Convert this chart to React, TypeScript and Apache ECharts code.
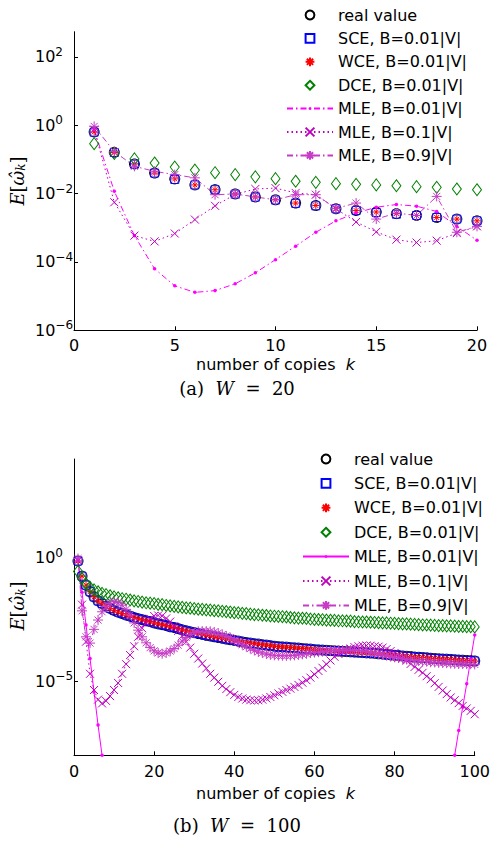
import React, { useEffect, useRef } from 'react';
import * as echarts from 'echarts';

const SANS = '"DejaVu Sans", Verdana, sans-serif';
const SERIF = '"DejaVu Serif", "Liberation Serif", serif';

// ---------- legend / tick labels ----------
const seriesNames = [
  'real value',
  'SCE, B=0.01|V|',
  'WCE, B=0.01|V|',
  'DCE, B=0.01|V|',
  'MLE, B=0.01|V|',
  'MLE, B=0.1|V|',
  'MLE, B=0.9|V|',
];
const yTicksW20 = [1e-6, 1e-4, 1e-2, 1, 1e2];
const yTicksW100 = [1e-5, 1];

// ---------- (a) W = 20 ----------
const copiesW20 = [1, 2, 3, 4, 5, 6, 7, 8, 9, 10, 11, 12, 13, 14, 15, 16, 17, 18, 19, 20];
const realW20 = [0.64, 0.162, 0.074, 0.04, 0.027, 0.018, 0.0131, 0.0098, 0.008, 0.0066, 0.0053, 0.0045, 0.0036, 0.0032, 0.0029, 0.0026, 0.0023, 0.002, 0.0018, 0.0016];
const sceW20 = [0.63, 0.16, 0.073, 0.04, 0.026, 0.018, 0.013, 0.0097, 0.0079, 0.0065, 0.0052, 0.0044, 0.0036, 0.0032, 0.0028, 0.0025, 0.0023, 0.002, 0.0018, 0.0016];
const wceW20 = [0.64, 0.16, 0.074, 0.04, 0.027, 0.018, 0.013, 0.0098, 0.008, 0.0066, 0.0053, 0.0045, 0.0037, 0.0032, 0.0029, 0.0026, 0.0023, 0.002, 0.0018, 0.0016];
const dceW20 = [0.29, 0.15, 0.104, 0.079, 0.06, 0.049, 0.041, 0.036, 0.031, 0.0275, 0.023, 0.0214, 0.0196, 0.0187, 0.018, 0.017, 0.016, 0.0153, 0.0137, 0.013];
const mle001W20 = [0.75, 0.0117, 5.9e-4, 6.3e-5, 2.0e-5, 1.29e-5, 1.45e-5, 2.3e-5, 4.8e-5, 1.17e-4, 2.9e-4, 7.4e-4, 1.6e-3, 2.7e-3, 4.0e-3, 4.8e-3, 4.3e-3, 3.0e-3, 1.1e-3, 4.3e-4];
const mle01W20 = [0.75, 5.6e-3, 5.9e-4, 4.0e-4, 6.8e-4, 1.74e-3, 4.4e-3, 9.5e-3, 0.0137, 0.0145, 0.0105, 0.0093, 3.6e-3, 1.48e-3, 7.6e-4, 4.5e-4, 3.7e-4, 4.2e-4, 7.0e-4, 1.1e-3];
const mle09W20 = [0.93, 0.17, 0.063, 0.045, 0.036, 0.029, 0.0093, 0.0098, 0.008, 0.0066, 0.0093, 0.0093, 0.0037, 0.0053, 0.0018, 0.0027, 0.0023, 0.0083, 7.4e-4, 1.1e-3];

// ---------- (b) W = 100 ----------
const copiesW100 = [
  1, 2, 3, 4, 5, 6, 7, 8, 9, 10, 11, 12, 13, 14, 15, 16, 17, 18, 19, 20,
  21, 22, 23, 24, 25, 26, 27, 28, 29, 30, 31, 32, 33, 34, 35, 36, 37, 38, 39, 40,
  41, 42, 43, 44, 45, 46, 47, 48, 49, 50, 51, 52, 53, 54, 55, 56, 57, 58, 59, 60,
  61, 62, 63, 64, 65, 66, 67, 68, 69, 70, 71, 72, 73, 74, 75, 76, 77, 78, 79, 80,
  81, 82, 83, 84, 85, 86, 87, 88, 89, 90, 91, 92, 93, 94, 95, 96, 97, 98, 99, 100,
];
const realW100 = [
  7.4e-1, 1.8e-1, 7.8e-2, 4.2e-2, 2.6e-2, 1.8e-2, 1.4e-2, 1.1e-2, 8.9e-3, 7.4e-3,
  6.3e-3, 5.5e-3, 4.8e-3, 4.3e-3, 3.8e-3, 3.4e-3, 3.1e-3, 2.8e-3, 2.6e-3, 2.3e-3,
  2.1e-3, 1.95e-3, 1.8e-3, 1.6e-3, 1.5e-3, 1.35e-3, 1.2e-3, 1.1e-3, 1.0e-3, 9.3e-4,
  8.5e-4, 7.9e-4, 7.2e-4, 6.8e-4, 6.3e-4, 5.9e-4, 5.5e-4, 5.1e-4, 4.8e-4, 4.5e-4,
  4.2e-4, 3.9e-4, 3.7e-4, 3.5e-4, 3.3e-4, 3.2e-4, 3.0e-4, 2.9e-4, 2.75e-4, 2.6e-4,
  2.5e-4, 2.45e-4, 2.4e-4, 2.3e-4, 2.25e-4, 2.2e-4, 2.1e-4, 2.05e-4, 2.0e-4, 1.9e-4,
  1.86e-4, 1.82e-4, 1.78e-4, 1.74e-4, 1.7e-4, 1.66e-4, 1.62e-4, 1.58e-4, 1.55e-4, 1.51e-4,
  1.48e-4, 1.45e-4, 1.41e-4, 1.38e-4, 1.35e-4, 1.29e-4, 1.26e-4, 1.2e-4, 1.17e-4, 1.12e-4,
  1.1e-4, 1.05e-4, 1.02e-4, 1.0e-4, 9.5e-5, 9.3e-5, 9.1e-5, 8.9e-5, 8.5e-5, 8.3e-5,
  8.1e-5, 7.9e-5, 7.8e-5, 7.6e-5, 7.4e-5, 7.2e-5, 7.1e-5, 6.9e-5, 6.8e-5, 6.6e-5,
];
// SCE and WCE markers sit on the real-value curve in the picture
const sceW100 = realW100;
const wceW100 = realW100;
const dceW100 = [
  2.8e-1, 1.45e-1, 8.9e-2, 6.3e-2, 5.0e-2, 4.2e-2, 3.6e-2, 3.2e-2, 2.9e-2, 2.6e-2,
  2.4e-2, 2.2e-2, 2.1e-2, 1.95e-2, 1.8e-2, 1.7e-2, 1.6e-2, 1.5e-2, 1.45e-2, 1.4e-2,
  1.3e-2, 1.26e-2, 1.17e-2, 1.12e-2, 1.07e-2, 1.02e-2, 9.8e-3, 9.3e-3, 9.1e-3, 8.7e-3,
  8.3e-3, 8.1e-3, 7.8e-3, 7.6e-3, 7.2e-3, 7.1e-3, 6.8e-3, 6.6e-3, 6.3e-3, 6.0e-3,
  5.9e-3, 5.6e-3, 5.5e-3, 5.2e-3, 5.0e-3, 4.9e-3, 4.7e-3, 4.6e-3, 4.4e-3, 4.3e-3,
  4.2e-3, 4.1e-3, 4.0e-3, 3.8e-3, 3.7e-3, 3.6e-3, 3.55e-3, 3.5e-3, 3.3e-3, 3.2e-3,
  3.16e-3, 3.1e-3, 3.0e-3, 2.95e-3, 2.9e-3, 2.8e-3, 2.8e-3, 2.75e-3, 2.7e-3, 2.6e-3,
  2.55e-3, 2.5e-3, 2.5e-3, 2.45e-3, 2.4e-3, 2.35e-3, 2.3e-3, 2.3e-3, 2.24e-3, 2.2e-3,
  2.15e-3, 2.1e-3, 2.1e-3, 2.05e-3, 2.0e-3, 1.95e-3, 1.9e-3, 1.9e-3, 1.86e-3, 1.82e-3,
  1.78e-3, 1.78e-3, 1.74e-3, 1.74e-3, 1.7e-3, 1.66e-3, 1.66e-3, 1.62e-3, 1.62e-3, 1.58e-3,
];
// k = 8 … 94 fall below the 1e-8 floor of the axis (gap marked with null)
const mle001W100Copies = [1, 2, 3, 4, 5, 6, 7, 8, 94, 95, 96, 97, 98, 99, 100];
const mle001W100 = [8.0e-1, 4.0e-2, 1.9e-3, 8.3e-5, 3.7e-6, 1.7e-7, 1.0e-8, null, null, 1.0e-8, 1.0e-7, 8.9e-7, 7.9e-6, 7.9e-5, 7.4e-4];
const mle01W100 = [
  7.9e-1, 1.26e-2, 4.0e-4, 2.0e-5, 4.4e-6, 1.8e-6, 1.26e-6, 1.6e-6, 2.5e-6, 4.4e-6,
  8.5e-6, 2.0e-5, 4.9e-5, 1.15e-4, 2.6e-4, 6.3e-4, 1.4e-3, 2.3e-3, 3.4e-3, 4.4e-3,
  4.6e-3, 4.4e-3, 3.5e-3, 2.6e-3, 1.7e-3, 1.1e-3, 6.8e-4, 4.0e-4, 2.3e-4, 1.3e-4,
  8.3e-5, 5.2e-5, 3.3e-5, 2.0e-5, 1.4e-5, 9.5e-6, 6.5e-6, 4.8e-6, 3.6e-6, 2.8e-6,
  2.3e-6, 2.0e-6, 1.8e-6, 1.7e-6, 1.66e-6, 1.7e-6, 1.8e-6, 2.0e-6, 2.3e-6, 2.7e-6,
  3.2e-6, 3.7e-6, 4.4e-6, 5.0e-6, 5.9e-6, 7.1e-6, 8.7e-6, 1.1e-5, 1.4e-5, 1.9e-5,
  2.6e-5, 3.5e-5, 4.9e-5, 6.9e-5, 9.8e-5, 1.26e-4, 1.55e-4, 1.8e-4, 2.1e-4, 2.4e-4,
  2.6e-4, 2.75e-4, 2.8e-4, 2.75e-4, 2.6e-4, 2.5e-4, 2.3e-4, 2.0e-4, 1.66e-4, 1.4e-4,
  1.15e-4, 8.9e-5, 6.8e-5, 5.0e-5, 3.8e-5, 2.9e-5, 2.2e-5, 1.6e-5, 1.2e-5, 8.3e-6,
  5.9e-6, 4.2e-6, 3.0e-6, 2.2e-6, 1.7e-6, 1.3e-6, 1.0e-6, 7.9e-7, 6.3e-7, 4.6e-7,
];
const mle09W100 = [
  9.3e-1, 7.1e-3, 6.3e-4, 3.5e-4, 1.26e-3, 3.0e-3, 6.5e-3, 1.05e-2, 1.4e-2, 1.66e-2,
  1.5e-2, 1.2e-2, 8.1e-3, 4.8e-3, 2.3e-3, 1.17e-3, 6.3e-4, 3.6e-4, 2.3e-4, 1.7e-4,
  1.4e-4, 1.3e-4, 1.4e-4, 1.66e-4, 2.1e-4, 2.9e-4, 4.2e-4, 5.9e-4, 7.8e-4, 9.3e-4,
  1.05e-3, 1.07e-3, 1.07e-3, 1.05e-3, 9.8e-4, 8.9e-4, 7.8e-4, 6.8e-4, 5.8e-4, 4.7e-4,
  3.7e-4, 3.0e-4, 2.5e-4, 2.1e-4, 1.78e-4, 1.55e-4, 1.4e-4, 1.26e-4, 1.17e-4, 1.12e-4,
  1.1e-4, 1.07e-4, 1.07e-4, 1.1e-4, 1.12e-4, 1.17e-4, 1.23e-4, 1.29e-4, 1.4e-4, 1.45e-4,
  1.5e-4, 1.58e-4, 1.66e-4, 1.7e-4, 1.74e-4, 1.78e-4, 1.82e-4, 1.82e-4, 1.82e-4, 1.78e-4,
  1.74e-4, 1.66e-4, 1.58e-4, 1.48e-4, 1.4e-4, 1.29e-4, 1.17e-4, 1.1e-4, 1.0e-4, 9.3e-5,
  8.7e-5, 8.1e-5, 7.6e-5, 7.2e-5, 6.9e-5, 6.6e-5, 6.3e-5, 6.2e-5, 5.9e-5, 5.8e-5,
  5.6e-5, 5.5e-5, 5.4e-5, 5.2e-5, 5.1e-5, 5.0e-5, 5.0e-5, 4.9e-5, 4.9e-5, 4.8e-5,
];

// ---------- marker shapes ----------
const SYM_ASTER = 'path://M5 0L5 10M0 5L10 5M1.46 1.46L8.54 8.54M1.46 8.54L8.54 1.46';
const SYM_X = 'path://M0 0L10 10M0 10L10 0';
const SYM_DOT = 'path://M0 0M10 10M5 3.4A1.6 1.6 0 1 1 5 6.6A1.6 1.6 0 1 1 5 3.4Z';

const MAG = '#ff00ff';
const PURPLE1 = '#bf00bf';
const PURPLE2 = '#c63cc6';

function pairs(xs: number[], ys: (number | null)[]) {
  return xs.map((x, i) => [x, ys[i] === null ? '-' : ys[i]]);
}

function markerSeries(name: string, xs: number[], ys: (number | null)[], symbol: string, size: any, color: string, fill: string) {
  return {
    name,
    type: 'line',
    data: pairs(xs, ys),
    symbol,
    symbolSize: size,
    silent: true,
    lineStyle: { width: 0, opacity: 0 },
    itemStyle: { color: fill, borderColor: color, borderWidth: 1 },
    emphasis: { disabled: true },
  };
}

function lineSeries(name: string, xs: number[], ys: (number | null)[], symbol: string, size: any, color: string, lineType: any, fillSym: boolean) {
  return {
    name,
    type: 'line',
    data: pairs(xs, ys),
    symbol,
    symbolSize: size,
    silent: true,
    lineStyle: { width: 1, color, type: lineType },
    itemStyle: { color, borderColor: color, borderWidth: fillSym ? 0 : 1 },
    emphasis: { disabled: true },
  };
}

const supMinus = (e: number) => (e < 0 ? '\u2212' + -e : String(e));

function buildOption(p: any) {
  return {
    animation: false,
    backgroundColor: '#fff',
    grid: { left: 74, width: 403, top: p.gridTop, height: p.gridHeight, containLabel: false },
    legend: {
      orient: 'vertical',
      left: p.legendLeft,
      top: p.legendTop,
      padding: 0,
      itemWidth: 46,
      itemHeight: 11,
      itemGap: p.legendGap,
      selectedMode: false,
      data: seriesNames,
      textStyle: { fontSize: 16, fontFamily: SANS, color: '#000', lineHeight: 18 },
    },
    xAxis: {
      type: 'value',
      min: 0,
      max: p.xMax,
      interval: p.xInterval,
      axisLine: { lineStyle: { color: '#000', width: 1 } },
      axisTick: { inside: true, length: 4, lineStyle: { color: '#000' } },
      axisLabel: { margin: p.xLabelMargin, fontSize: 16, fontFamily: SANS, color: '#000', lineHeight: 17 },
      splitLine: { show: false },
    },
    yAxis: {
      type: 'log',
      logBase: 10,
      min: p.yMin,
      max: p.yMax,
      axisLine: { show: true, lineStyle: { color: '#000', width: 1 } },
      axisTick: { show: true, inside: true, length: 4, customValues: p.yTicks, lineStyle: { color: '#000' } },
      axisLabel: {
        customValues: p.yTicks,
        align: 'left',
        margin: 39,
        formatter: (v: number) => '{b|10}{s|' + supMinus(Math.round(Math.log10(v))) + '}',
        rich: {
          b: { fontSize: 16, fontFamily: SANS, color: '#000' },
          s: { fontSize: 12, fontFamily: SANS, color: '#000', padding: [0, 0, 10, 0] },
        },
      },
      splitLine: { show: false },
      minorTick: { show: false },
    },
    graphic: [
      {
        type: 'text',
        x: 275.5,
        y: p.titleY,
        silent: true,
        style: {
          text: 'number of copies  {k|k}',
          fontSize: 16,
          fontFamily: SANS,
          lineHeight: 16,
          fill: '#000',
          align: 'center',
          verticalAlign: 'middle',
          rich: { k: { fontSize: 16, lineHeight: 16, fontFamily: SANS, fontStyle: 'italic', fill: '#000' } },
        },
      },
      {
        type: 'text',
        x: 17,
        y: p.yNameY,
        rotation: Math.PI / 2,
        silent: true,
        style: {
          text: '{e|E}{n|[}{w|\u03c9\u0302}{k|k}{n|]}',
          align: 'center',
          verticalAlign: 'middle',
          fill: '#000',
          rich: {
            e: { fontSize: 18, fontFamily: SERIF, fontStyle: 'italic', fill: '#000' },
            n: { fontSize: 18, fontFamily: SERIF, fill: '#000' },
            w: { fontSize: 18, fontFamily: SERIF, fontStyle: 'italic', fill: '#000' },
            k: { fontSize: 12, fontFamily: SERIF, fontStyle: 'italic', fill: '#000', padding: [8, 0, 0, 0] },
          },
        },
      },
      {
        type: 'text',
        x: 237,
        y: p.captionY,
        silent: true,
        style: {
          text: '{n|(' + p.captionTag + ')  }{i|W}{n|  =  ' + p.captionW + '}',
          align: 'center',
          verticalAlign: 'middle',
          fill: '#000',
          rich: {
            n: { fontSize: 18, fontFamily: SERIF, fill: '#000' },
            i: { fontSize: 18, fontFamily: SERIF, fontStyle: 'italic', fill: '#000' },
          },
        },
      },
    ],
    series: p.series,
  };
}

const DASHDOT = [6, 3, 1.5, 3];
const DOTTED = [1.5, 3];

const optionW20 = buildOption({
  gridTop: 31.7,
  gridHeight: 298.6,
  xMax: 20,
  xInterval: 5,
  xLabelMargin: 7,
  yMin: 1e-6,
  yMax: 549.5,
  yTicks: yTicksW20,
  legendLeft: 286,
  legendTop: 6,
  legendGap: 5.4,
  titleY: 364,
  yNameY: 181,
  captionY: 388,
  captionTag: 'a',
  captionW: '20',
  series: [
    markerSeries(seriesNames[0], copiesW20, realW20, 'circle', 10, '#000', 'rgba(0,0,0,0)'),
    markerSeries(seriesNames[1], copiesW20, sceW20, 'rect', 8, '#0000ff', 'rgba(0,0,0,0)'),
    markerSeries(seriesNames[2], copiesW20, wceW20, SYM_ASTER, 7, '#ff0000', '#ff0000'),
    markerSeries(seriesNames[3], copiesW20, dceW20, 'diamond', [9, 12], '#008000', 'rgba(0,0,0,0)'),
    lineSeries(seriesNames[4], copiesW20, mle001W20, SYM_DOT, 11, MAG, DASHDOT, true),
    lineSeries(seriesNames[5], copiesW20, mle01W20, SYM_X, 8, PURPLE1, DOTTED, false),
    lineSeries(seriesNames[6], copiesW20, mle09W20, SYM_ASTER, 10, PURPLE2, DASHDOT, false),
  ],
});

const optionW100 = buildOption({
  gridTop: 38,
  gridHeight: 296.3,
  xMax: 100,
  xInterval: 20,
  xLabelMargin: 8,
  yMin: 1e-8,
  yMax: 1e4,
  yTicks: yTicksW100,
  legendLeft: 302,
  legendTop: 29,
  legendGap: 6.4,
  titleY: 372,
  yNameY: 185,
  captionY: 404,
  captionTag: 'b',
  captionW: '100',
  series: [
    markerSeries(seriesNames[0], copiesW100, realW100, 'circle', 10, '#000', 'rgba(0,0,0,0)'),
    markerSeries(seriesNames[1], copiesW100, sceW100, 'rect', 8, '#0000ff', 'rgba(0,0,0,0)'),
    markerSeries(seriesNames[2], copiesW100, wceW100, SYM_ASTER, 7, '#ff0000', '#ff0000'),
    markerSeries(seriesNames[3], copiesW100, dceW100, 'diamond', [9, 12], '#008000', 'rgba(0,0,0,0)'),
    lineSeries(seriesNames[4], mle001W100Copies, mle001W100, SYM_DOT, 11, MAG, 'solid', true),
    lineSeries(seriesNames[5], copiesW100, mle01W100, SYM_X, 8, PURPLE1, DOTTED, false),
    lineSeries(seriesNames[6], copiesW100, mle09W100, SYM_ASTER, 10, PURPLE2, DASHDOT, false),
  ],
});

function Chart({ option, top, height }: { option: any; top: number; height: number }) {
  const ref = useRef<HTMLDivElement>(null);
  useEffect(() => {
    const chart = echarts.init(ref.current as HTMLDivElement, null, { renderer: 'svg' });
    chart.setOption(option);
    return () => chart.dispose();
  }, [option]);
  return <div ref={ref} style={{ position: 'absolute', left: 0, top, width: 493, height }} />;
}

export default function App() {
  return (
    <div style={{ position: 'fixed', left: 0, top: 0, width: 493, height: 842, background: '#fff', overflow: 'hidden' }}>
      <Chart option={optionW20} top={0} height={421} />
      <Chart option={optionW100} top={421} height={421} />
    </div>
  );
}
